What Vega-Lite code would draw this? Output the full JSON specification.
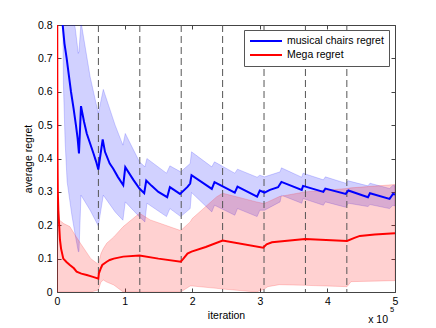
{
 "$schema": "https://vega.github.io/schema/vega-lite/v6.json",
 "width": 338,
 "height": 267,
 "autosize": {"type": "none"},
 "padding": {"left": 57, "top": 25, "right": 41, "bottom": 36},
 "background": "white",
 "config": {
  "font": "Liberation Sans",
  "view": {"stroke": "#444", "strokeWidth": 1},
  "axis": {"grid": false, "domain": false, "labelFont": "Liberation Sans", "labelFontSize": 10.5, "labelColor": "#000", "titleFont": "Liberation Sans", "titleFontSize": 10.5, "titleFontWeight": "normal", "titleColor": "#000", "tickColor": "#444", "tickSize": -4, "labelFlush": false}
 },
 "datasets": {
  "mcBand": [
   {"iteration": 8500, "lower": 0.85, "upper": 1.0},
   {"iteration": 9500, "lower": 0.62, "upper": 1.0},
   {"iteration": 12000, "lower": 0.45, "upper": 0.95},
   {"iteration": 15000, "lower": 0.33, "upper": 0.9},
   {"iteration": 22000, "lower": 0.23, "upper": 0.84},
   {"iteration": 27000, "lower": 0.17, "upper": 0.79},
   {"iteration": 31500, "lower": 0.121, "upper": 0.715},
   {"iteration": 32500, "lower": 0.121, "upper": 0.72},
   {"iteration": 35500, "lower": 0.29, "upper": 0.81},
   {"iteration": 49000, "lower": 0.245, "upper": 0.645},
   {"iteration": 61100, "lower": 0.198, "upper": 0.535},
   {"iteration": 68500, "lower": 0.29, "upper": 0.607},
   {"iteration": 86000, "lower": 0.24, "upper": 0.5},
   {"iteration": 97500, "lower": 0.215, "upper": 0.44},
   {"iteration": 101000, "lower": 0.27, "upper": 0.475},
   {"iteration": 122000, "lower": 0.225, "upper": 0.39},
   {"iteration": 130000, "lower": 0.21, "upper": 0.375},
   {"iteration": 133000, "lower": 0.266, "upper": 0.4},
   {"iteration": 162000, "lower": 0.226, "upper": 0.356},
   {"iteration": 167000, "lower": 0.25, "upper": 0.378},
   {"iteration": 183000, "lower": 0.226, "upper": 0.36},
   {"iteration": 197000, "lower": 0.25, "upper": 0.385},
   {"iteration": 199000, "lower": 0.298, "upper": 0.42},
   {"iteration": 229000, "lower": 0.24, "upper": 0.375},
   {"iteration": 233000, "lower": 0.26, "upper": 0.39},
   {"iteration": 263000, "lower": 0.23, "upper": 0.356},
   {"iteration": 267000, "lower": 0.25, "upper": 0.368},
   {"iteration": 296000, "lower": 0.226, "upper": 0.344},
   {"iteration": 300000, "lower": 0.245, "upper": 0.35},
   {"iteration": 307000, "lower": 0.245, "upper": 0.345},
   {"iteration": 330000, "lower": 0.27, "upper": 0.36},
   {"iteration": 332000, "lower": 0.29, "upper": 0.372},
   {"iteration": 362000, "lower": 0.266, "upper": 0.344},
   {"iteration": 364000, "lower": 0.28, "upper": 0.356},
   {"iteration": 394000, "lower": 0.26, "upper": 0.336},
   {"iteration": 397000, "lower": 0.27, "upper": 0.345},
   {"iteration": 427000, "lower": 0.254, "upper": 0.326},
   {"iteration": 431000, "lower": 0.266, "upper": 0.333},
   {"iteration": 460000, "lower": 0.256, "upper": 0.318},
   {"iteration": 463000, "lower": 0.262, "upper": 0.326},
   {"iteration": 492000, "lower": 0.25, "upper": 0.31},
   {"iteration": 497000, "lower": 0.26, "upper": 0.32},
   {"iteration": 500000, "lower": 0.258, "upper": 0.318}
  ],
  "megaBand": [
   {"iteration": 0, "lower": 0, "upper": 1.0},
   {"iteration": 600, "lower": 0, "upper": 0.4},
   {"iteration": 1000, "lower": 0, "upper": 0.3},
   {"iteration": 2000, "lower": 0, "upper": 0.24},
   {"iteration": 3400, "lower": 0, "upper": 0.216},
   {"iteration": 10000, "lower": 0, "upper": 0.205},
   {"iteration": 19000, "lower": 0, "upper": 0.196},
   {"iteration": 27000, "lower": 0, "upper": 0.17},
   {"iteration": 35000, "lower": 0, "upper": 0.145},
   {"iteration": 50000, "lower": 0, "upper": 0.1},
   {"iteration": 61100, "lower": 0.006, "upper": 0.083},
   {"iteration": 65000, "lower": 0.03, "upper": 0.115},
   {"iteration": 68500, "lower": 0.036, "upper": 0.13},
   {"iteration": 73500, "lower": 0.03, "upper": 0.146},
   {"iteration": 84000, "lower": 0.021, "upper": 0.165},
   {"iteration": 98000, "lower": 0, "upper": 0.196},
   {"iteration": 122000, "lower": 0, "upper": 0.236},
   {"iteration": 138000, "lower": 0, "upper": 0.216},
   {"iteration": 183000, "lower": 0, "upper": 0.184},
   {"iteration": 197000, "lower": 0.018, "upper": 0.21},
   {"iteration": 200000, "lower": 0.018, "upper": 0.22},
   {"iteration": 236000, "lower": 0.011, "upper": 0.285},
   {"iteration": 245000, "lower": 0.009, "upper": 0.296},
   {"iteration": 295000, "lower": 0, "upper": 0.27},
   {"iteration": 306000, "lower": 0.008, "upper": 0.265},
   {"iteration": 312000, "lower": 0.016, "upper": 0.27},
   {"iteration": 329000, "lower": 0.022, "upper": 0.286},
   {"iteration": 367000, "lower": 0.02, "upper": 0.3},
   {"iteration": 429000, "lower": 0.016, "upper": 0.31},
   {"iteration": 435000, "lower": 0.031, "upper": 0.312},
   {"iteration": 500000, "lower": 0.034, "upper": 0.322}
  ],
  "epochs": [
   {"iteration": 61250}, {"iteration": 122500}, {"iteration": 183750}, {"iteration": 245000},
   {"iteration": 306250}, {"iteration": 367500}, {"iteration": 428750}
  ],
  "lines": [
   {"series": "musical chairs regret", "iteration": 6000, "regret": 0.95},
   {"series": "musical chairs regret", "iteration": 8400, "regret": 0.8},
   {"series": "musical chairs regret", "iteration": 11000, "regret": 0.745},
   {"series": "musical chairs regret", "iteration": 14300, "regret": 0.7},
   {"series": "musical chairs regret", "iteration": 17500, "regret": 0.65},
   {"series": "musical chairs regret", "iteration": 20700, "regret": 0.6},
   {"series": "musical chairs regret", "iteration": 24500, "regret": 0.55},
   {"series": "musical chairs regret", "iteration": 28000, "regret": 0.5},
   {"series": "musical chairs regret", "iteration": 30500, "regret": 0.46},
   {"series": "musical chairs regret", "iteration": 32500, "regret": 0.415},
   {"series": "musical chairs regret", "iteration": 35500, "regret": 0.557},
   {"series": "musical chairs regret", "iteration": 40000, "regret": 0.51},
   {"series": "musical chairs regret", "iteration": 44000, "regret": 0.475},
   {"series": "musical chairs regret", "iteration": 49000, "regret": 0.445},
   {"series": "musical chairs regret", "iteration": 54000, "regret": 0.415},
   {"series": "musical chairs regret", "iteration": 58000, "regret": 0.39},
   {"series": "musical chairs regret", "iteration": 61100, "regret": 0.367},
   {"series": "musical chairs regret", "iteration": 67600, "regret": 0.457},
   {"series": "musical chairs regret", "iteration": 71000, "regret": 0.42},
   {"series": "musical chairs regret", "iteration": 78000, "regret": 0.385},
   {"series": "musical chairs regret", "iteration": 83000, "regret": 0.37},
   {"series": "musical chairs regret", "iteration": 90000, "regret": 0.345},
   {"series": "musical chairs regret", "iteration": 98000, "regret": 0.32},
   {"series": "musical chairs regret", "iteration": 101000, "regret": 0.374},
   {"series": "musical chairs regret", "iteration": 113000, "regret": 0.336},
   {"series": "musical chairs regret", "iteration": 122000, "regret": 0.31},
   {"series": "musical chairs regret", "iteration": 129000, "regret": 0.296},
   {"series": "musical chairs regret", "iteration": 132000, "regret": 0.334},
   {"series": "musical chairs regret", "iteration": 140000, "regret": 0.318},
   {"series": "musical chairs regret", "iteration": 150000, "regret": 0.3},
   {"series": "musical chairs regret", "iteration": 163000, "regret": 0.284},
   {"series": "musical chairs regret", "iteration": 167000, "regret": 0.314},
   {"series": "musical chairs regret", "iteration": 182000, "regret": 0.294},
   {"series": "musical chairs regret", "iteration": 193000, "regret": 0.315},
   {"series": "musical chairs regret", "iteration": 197000, "regret": 0.325},
   {"series": "musical chairs regret", "iteration": 199000, "regret": 0.35},
   {"series": "musical chairs regret", "iteration": 229000, "regret": 0.309},
   {"series": "musical chairs regret", "iteration": 233000, "regret": 0.329},
   {"series": "musical chairs regret", "iteration": 263000, "regret": 0.298},
   {"series": "musical chairs regret", "iteration": 267000, "regret": 0.316},
   {"series": "musical chairs regret", "iteration": 296000, "regret": 0.286},
   {"series": "musical chairs regret", "iteration": 300000, "regret": 0.304},
   {"series": "musical chairs regret", "iteration": 307000, "regret": 0.298},
   {"series": "musical chairs regret", "iteration": 315000, "regret": 0.306},
   {"series": "musical chairs regret", "iteration": 327000, "regret": 0.314},
   {"series": "musical chairs regret", "iteration": 332000, "regret": 0.33},
   {"series": "musical chairs regret", "iteration": 362000, "regret": 0.306},
   {"series": "musical chairs regret", "iteration": 364000, "regret": 0.318},
   {"series": "musical chairs regret", "iteration": 394000, "regret": 0.3},
   {"series": "musical chairs regret", "iteration": 397000, "regret": 0.31},
   {"series": "musical chairs regret", "iteration": 427000, "regret": 0.294},
   {"series": "musical chairs regret", "iteration": 431000, "regret": 0.304},
   {"series": "musical chairs regret", "iteration": 460000, "regret": 0.284},
   {"series": "musical chairs regret", "iteration": 463000, "regret": 0.296},
   {"series": "musical chairs regret", "iteration": 492000, "regret": 0.279},
   {"series": "musical chairs regret", "iteration": 497000, "regret": 0.294},
   {"series": "musical chairs regret", "iteration": 500000, "regret": 0.292},
   {"series": "Mega regret", "iteration": 300, "regret": 0.95},
   {"series": "Mega regret", "iteration": 500, "regret": 0.6},
   {"series": "Mega regret", "iteration": 800, "regret": 0.4},
   {"series": "Mega regret", "iteration": 1200, "regret": 0.3},
   {"series": "Mega regret", "iteration": 2000, "regret": 0.245},
   {"series": "Mega regret", "iteration": 3000, "regret": 0.206},
   {"series": "Mega regret", "iteration": 4400, "regret": 0.156},
   {"series": "Mega regret", "iteration": 6000, "regret": 0.13},
   {"series": "Mega regret", "iteration": 9300, "regret": 0.1},
   {"series": "Mega regret", "iteration": 14000, "regret": 0.09},
   {"series": "Mega regret", "iteration": 19000, "regret": 0.081},
   {"series": "Mega regret", "iteration": 25000, "regret": 0.071},
   {"series": "Mega regret", "iteration": 29000, "regret": 0.061},
   {"series": "Mega regret", "iteration": 36000, "regret": 0.055},
   {"series": "Mega regret", "iteration": 44000, "regret": 0.051},
   {"series": "Mega regret", "iteration": 52000, "regret": 0.046},
   {"series": "Mega regret", "iteration": 60000, "regret": 0.041},
   {"series": "Mega regret", "iteration": 61100, "regret": 0.04},
   {"series": "Mega regret", "iteration": 62000, "regret": 0.056},
   {"series": "Mega regret", "iteration": 65000, "regret": 0.072},
   {"series": "Mega regret", "iteration": 67000, "regret": 0.081},
   {"series": "Mega regret", "iteration": 73000, "regret": 0.09},
   {"series": "Mega regret", "iteration": 78000, "regret": 0.096},
   {"series": "Mega regret", "iteration": 84000, "regret": 0.1},
   {"series": "Mega regret", "iteration": 98000, "regret": 0.106},
   {"series": "Mega regret", "iteration": 122000, "regret": 0.109},
   {"series": "Mega regret", "iteration": 150000, "regret": 0.1},
   {"series": "Mega regret", "iteration": 183000, "regret": 0.091},
   {"series": "Mega regret", "iteration": 187000, "regret": 0.1},
   {"series": "Mega regret", "iteration": 193000, "regret": 0.115},
   {"series": "Mega regret", "iteration": 199000, "regret": 0.121},
   {"series": "Mega regret", "iteration": 220000, "regret": 0.135},
   {"series": "Mega regret", "iteration": 245000, "regret": 0.154},
   {"series": "Mega regret", "iteration": 305000, "regret": 0.133},
   {"series": "Mega regret", "iteration": 310000, "regret": 0.143},
   {"series": "Mega regret", "iteration": 318000, "regret": 0.149},
   {"series": "Mega regret", "iteration": 367000, "regret": 0.159},
   {"series": "Mega regret", "iteration": 429000, "regret": 0.153},
   {"series": "Mega regret", "iteration": 440000, "regret": 0.162},
   {"series": "Mega regret", "iteration": 448000, "regret": 0.168},
   {"series": "Mega regret", "iteration": 470000, "regret": 0.172},
   {"series": "Mega regret", "iteration": 500000, "regret": 0.176}
  ],
  "scaleNote": [
   {"iteration": 500000, "regret": 0, "base": "x 10", "power": "5"}
  ]
 },
 "layer": [
  {
   "data": {"name": "mcBand"},
   "mark": {"type": "area", "clip": true, "fill": "#0000ff", "fillOpacity": 0.18, "stroke": "#0000ff", "strokeOpacity": 0.22, "strokeWidth": 0.8},
   "encoding": {
    "x": {"field": "iteration", "type": "quantitative", "scale": {"domain": [0, 500000], "nice": false},
     "axis": {"orient": "bottom", "values": [0, 100000, 200000, 300000, 400000, 500000], "labelExpr": "format(datum.value / 100000, 'd')", "title": "iteration", "labelPadding": 8, "titlePadding": 4}},
    "y": {"field": "lower", "type": "quantitative", "scale": {"domain": [0, 0.8], "nice": false},
     "axis": {"orient": "left", "values": [0, 0.1, 0.2, 0.3, 0.4, 0.5, 0.6, 0.7, 0.8], "format": "~g", "title": "average regret", "labelPadding": 9, "titlePadding": 4}},
    "y2": {"field": "upper"}
   }
  },
  {
   "data": {"name": "megaBand"},
   "mark": {"type": "area", "clip": true, "fill": "#ff0000", "fillOpacity": 0.18, "stroke": "#ff0000", "strokeOpacity": 0.22, "strokeWidth": 0.8},
   "encoding": {
    "x": {"field": "iteration", "type": "quantitative", "scale": {"domain": [0, 500000], "nice": false},
     "axis": {"orient": "top", "values": [0, 100000, 200000, 300000, 400000, 500000], "labels": false, "title": null}},
    "y": {"field": "lower", "type": "quantitative", "scale": {"domain": [0, 0.8], "nice": false},
     "axis": {"orient": "right", "values": [0, 0.1, 0.2, 0.3, 0.4, 0.5, 0.6, 0.7, 0.8], "labels": false, "title": null}},
    "y2": {"field": "upper"}
   }
  },
  {
   "data": {"name": "epochs"},
   "mark": {"type": "rule", "color": "#555", "strokeWidth": 1, "strokeDash": [7, 4]},
   "encoding": {
    "x": {"field": "iteration", "type": "quantitative", "axis": null}
   }
  },
  {
   "data": {"name": "lines"},
   "mark": {"type": "line", "clip": true, "strokeWidth": 2},
   "encoding": {
    "x": {"field": "iteration", "type": "quantitative", "axis": null},
    "y": {"field": "regret", "type": "quantitative", "axis": null},
    "color": {"field": "series", "type": "nominal",
     "scale": {"domain": ["musical chairs regret", "Mega regret"], "range": ["#0000ff", "#ff0000"]},
     "legend": {"orient": "none", "legendX": 187, "legendY": 5, "title": null, "symbolType": "M-1,0H5.4", "symbolSize": 100, "symbolStrokeWidth": 2, "labelOffset": 26, "labelFont": "Liberation Sans", "labelFontSize": 10.5, "labelColor": "#000", "padding": 5, "rowPadding": 2, "strokeColor": "#555", "fillColor": "#fff"}}
   }
  },
  {
   "data": {"name": "scaleNote"},
   "mark": {"type": "text", "align": "right", "baseline": "middle", "dx": -7, "dy": 28, "fontSize": 10.5, "color": "#000"},
   "encoding": {
    "x": {"field": "iteration", "type": "quantitative", "axis": null},
    "y": {"field": "regret", "type": "quantitative", "axis": null},
    "text": {"field": "base"}
   }
  },
  {
   "data": {"name": "scaleNote"},
   "mark": {"type": "text", "align": "center", "baseline": "middle", "dx": -3, "dy": 18, "fontSize": 7.5, "color": "#000"},
   "encoding": {
    "x": {"field": "iteration", "type": "quantitative", "axis": null},
    "y": {"field": "regret", "type": "quantitative", "axis": null},
    "text": {"field": "power"}
   }
  }
 ],
 "resolve": {"axis": {"x": "independent", "y": "independent"}}
}
